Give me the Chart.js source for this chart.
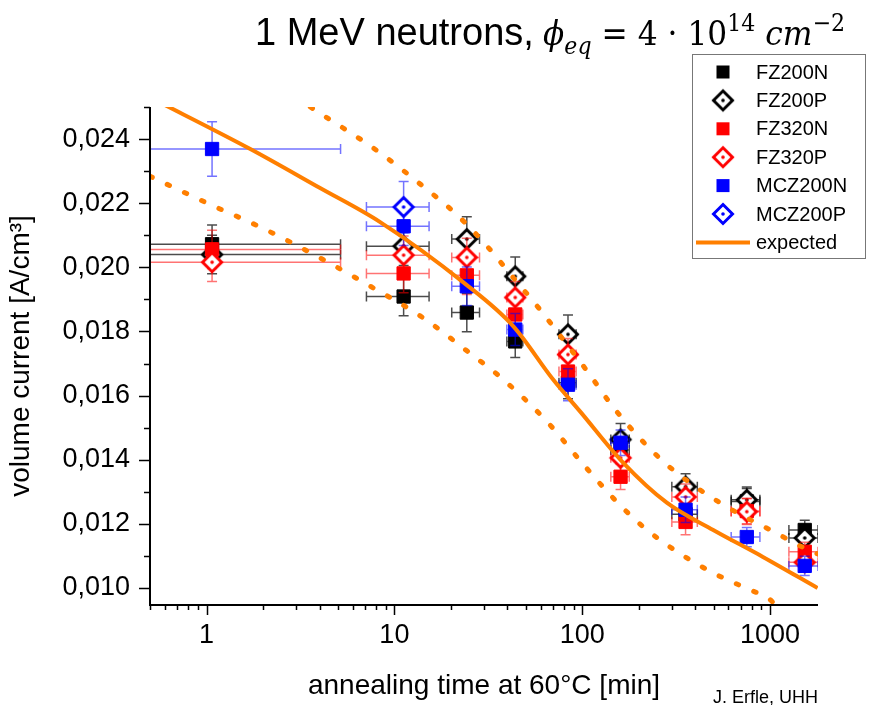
<!DOCTYPE html>
<html><head><meta charset="utf-8">
<script src="https://cdn.jsdelivr.net/npm/chart.js@4.4.1/dist/chart.umd.min.js"></script>
<style>html,body{margin:0;padding:0;background:#fff;}#wrap{width:877px;height:705px;position:relative;}</style>
</head><body><div id="wrap"><canvas id="c" width="877" height="705"></canvas></div>
<script>
// ---------- data ----------
const annealTimes = [1.07, 11.2, 24.3, 44, 84, 160, 355, 752, 1530];
const timeErrors  = [4.1, 4.1, 4.1, 4.3, 8.8, 18, 55, 131, 270];

const fz200nValues = [0.02072, 0.01909, 0.01859, 0.01769, 0.01640, 0.01430, 0.01230, 0.01270, 0.01181];
const fz200nErrors = [0.0006, 0.0006, 0.0006, 0.0005, 0.0005, 0.0004, 0.0004, 0.0004, 0.0003];
const fz200pValues = [0.02040, 0.02066, 0.02088, 0.01972, 0.01791, 0.01463, 0.01316, 0.01275, 0.01156];
const fz200pErrors = [0.0006, 0.0006, 0.0007, 0.0006, 0.0006, 0.0005, 0.0004, 0.0004, 0.0004];
const fz320nValues = [0.02056, 0.01981, 0.01975, 0.01853, 0.01675, 0.01347, 0.01206, 0.01240, 0.01113];
const fz320nErrors = [0.0006, 0.0006, 0.0006, 0.0005, 0.0005, 0.0004, 0.0004, 0.0004, 0.0003];
const fz320pValues = [0.02016, 0.02038, 0.02031, 0.01906, 0.01728, 0.01406, 0.01284, 0.01238, 0.01080];
const fz320pErrors = [0.0006, 0.0006, 0.0006, 0.0005, 0.0005, 0.0004, 0.0004, 0.0004, 0.0003];
const mcz200nValues = [0.02369, 0.02128, 0.01941, 0.01806, 0.01634, 0.01453, 0.01244, 0.01159, 0.01069];
const mcz200nErrors = [0.00085, 0.0006, 0.0006, 0.0005, 0.0005, 0.0004, 0.0004, 0.0003, 0.0003];
const mcz200pValues = [null, 0.02188, null, null, null, null, null, null, null];
const mcz200pErrors = [null, 0.0008, null, null, null, null, null, null, null];

const expectedTimes  = [0.5, 1.71, 4, 8.4, 23.3, 43, 70, 97.6, 165, 282, 498, 916, 1790];
const expectedValues = [0.0253, 0.02369, 0.02248, 0.02141, 0.01953, 0.01816, 0.0165, 0.0155, 0.01391, 0.01266, 0.01181, 0.01097, 0.0100];
const upperTimes  = [3.57, 8.12, 14.6, 21.6, 30.5, 42.4, 58.3, 79.2, 107.6, 144, 199, 283, 424, 652, 1025, 1592, 1800];
const upperValues = [0.025, 0.02363, 0.02247, 0.02163, 0.02072, 0.01972, 0.01875, 0.01775, 0.01672, 0.01569, 0.01472, 0.01384, 0.01306, 0.01238, 0.01178, 0.01119, 0.01106];
const lowerTimes  = [0.5, 1.01, 1.99, 3.89, 7.45, 14.1, 25.4, 37.5, 63.5, 105, 146, 211, 320, 498, 783, 975, 1100];
const lowerValues = [0.02284, 0.0220, 0.02122, 0.02034, 0.01941, 0.01844, 0.01731, 0.01653, 0.01525, 0.01375, 0.01281, 0.01191, 0.01113, 0.01047, 0.00994, 0.00969, 0.00940];

const yTickValues = [0.010, 0.012, 0.014, 0.016, 0.018, 0.020, 0.022, 0.024];
const yMinorTickValues = [0.011, 0.013, 0.015, 0.017, 0.019, 0.021, 0.023, 0.025];
const xTickValues = [1, 10, 100, 1000];
const xMinorTickValues = [0.5, 0.6, 0.7, 0.8, 0.9, 2, 3, 4, 5, 6, 7, 8, 9, 20, 30, 40, 50, 60, 70, 80, 90, 200, 300, 400, 500, 600, 700, 800, 900];

// ---------- helpers ----------
function pts(xs, ys) { const out = []; for (let i = 0; i < xs.length; i++) { if (ys[i] !== null) out.push({x: xs[i], y: ys[i]}); } return out; }
function makeDiamond(color) {
  const c = document.createElement('canvas'); c.width = 26; c.height = 26;
  const g = c.getContext('2d'); const h = 9.5;
  g.beginPath(); g.moveTo(13, 13 - h); g.lineTo(13 + h, 13); g.lineTo(13, 13 + h); g.lineTo(13 - h, 13); g.closePath();
  g.fillStyle = '#fff'; g.fill(); g.lineWidth = 3; g.strokeStyle = color; g.lineJoin = 'miter'; g.stroke();
  g.beginPath(); g.arc(13, 13, 1.8, 0, Math.PI * 2); g.fillStyle = color; g.fill();
  return c;
}
const ORANGE = '#ff7f00';
function scatterSet(name, xs, ys, errs, color, errColor, filled, order) {
  const base = {label: name, data: pts(xs, ys), yErr: errs, xErr: timeErrors, xVals: xs, yVals: ys, errColor: errColor, order: order, showLine: false, markerColor: color, filled: filled};
  if (filled) {
    return Object.assign(base, {pointStyle: 'rect', pointRadius: 9.4, backgroundColor: color, borderColor: color, pointBorderWidth: 1});
  }
  return Object.assign(base, {pointStyle: makeDiamond(color), pointRadius: 10, backgroundColor: color, borderColor: color});
}
const datasets = [
  scatterSet('FZ200N', annealTimes, fz200nValues, fz200nErrors, '#000000', 'rgba(0,0,0,0.7)', true, 16),
  scatterSet('FZ200P', annealTimes, fz200pValues, fz200pErrors, '#000000', 'rgba(0,0,0,0.7)', false, 15),
  scatterSet('FZ320N', annealTimes, fz320nValues, fz320nErrors, '#ff0000', 'rgba(255,0,0,0.55)', true, 14),
  scatterSet('FZ320P', annealTimes, fz320pValues, fz320pErrors, '#ff0000', 'rgba(255,0,0,0.55)', false, 13),
  scatterSet('MCZ200N', annealTimes, mcz200nValues, mcz200nErrors, '#0000ff', 'rgba(0,0,255,0.55)', true, 12),
  scatterSet('MCZ200P', annealTimes, mcz200pValues, mcz200pErrors, '#0000ff', 'rgba(0,0,255,0.55)', false, 11),
  {label: 'expected', data: pts(expectedTimes, expectedValues), showLine: true, pointRadius: 0, borderColor: ORANGE, borderWidth: 4, cubicInterpolationMode: 'monotone', order: 1, isLine: true},
  {label: 'upper', data: pts(upperTimes, upperValues), showLine: true, pointRadius: 0, borderColor: ORANGE, borderWidth: 5, borderDash: [2.5, 16.5], borderCapStyle: 'round', cubicInterpolationMode: 'monotone', order: 2, noLegend: true},
  {label: 'lower', data: pts(lowerTimes, lowerValues), showLine: true, pointRadius: 0, borderColor: ORANGE, borderWidth: 5, borderDash: [2.5, 16.5], borderCapStyle: 'round', cubicInterpolationMode: 'monotone', order: 3, noLegend: true}
];

const SANS = '"Liberation Sans", Arial, sans-serif';
const MATH = '"DejaVu Serif", serif';

// error bars drawn beneath each series' markers
const errorBars = {
  id: 'errorBars',
  beforeDatasetDraw(chart, args) {
    const ds = chart.data.datasets[args.index];
    if (!ds.yErr) return;
    const xs = chart.scales.x, ys = chart.scales.y, ca = chart.chartArea, ctx = chart.ctx;
    ctx.save();
    ctx.beginPath(); ctx.rect(ca.left, ca.top, ca.right - ca.left, ca.bottom - ca.top); ctx.clip();
    ctx.strokeStyle = ds.errColor; ctx.lineWidth = 1.5;
    const cap = 5;
    for (let i = 0; i < ds.xVals.length; i++) {
      const v = ds.yVals[i]; if (v === null) continue;
      const t = ds.xVals[i], e = ds.yErr[i], te = ds.xErr[i];
      const px = xs.getPixelForValue(t), py = ys.getPixelForValue(v);
      const y1 = ys.getPixelForValue(v - e), y2 = ys.getPixelForValue(v + e);
      ctx.beginPath();
      ctx.moveTo(px, y1); ctx.lineTo(px, y2);
      ctx.moveTo(px - cap, y1); ctx.lineTo(px + cap, y1);
      ctx.moveTo(px - cap, y2); ctx.lineTo(px + cap, y2);
      const lo = t - te, hi = t + te;
      const x1 = lo > 0 ? xs.getPixelForValue(lo) : ca.left - 5;
      const x2 = xs.getPixelForValue(hi);
      ctx.moveTo(x1, py); ctx.lineTo(x2, py);
      if (lo > 0) { ctx.moveTo(x1, py - cap); ctx.lineTo(x1, py + cap); }
      ctx.moveTo(x2, py - cap); ctx.lineTo(x2, py + cap);
      ctx.stroke();
    }
    ctx.restore();
  }
};

const decorations = {
  id: 'decorations',
  afterDraw(chart) {
    const ctx = chart.ctx, xs = chart.scales.x, ys = chart.scales.y, ca = chart.chartArea;
    ctx.save();
    // axes lines and ticks
    ctx.strokeStyle = '#000'; ctx.lineWidth = 2;
    ctx.beginPath();
    ctx.moveTo(ca.left, ca.top); ctx.lineTo(ca.left, ca.bottom + 1);
    ctx.moveTo(ca.left - 1, ca.bottom); ctx.lineTo(ca.right, ca.bottom);
    ctx.stroke();
    ctx.lineWidth = 1.5;
    ctx.beginPath();
    yTickValues.forEach(v => { const p = Math.round(ys.getPixelForValue(v)) + 0.5; ctx.moveTo(ca.left - 11, p); ctx.lineTo(ca.left, p); });
    yMinorTickValues.forEach(v => { const p = Math.round(ys.getPixelForValue(v)) + 0.5; ctx.moveTo(ca.left - 6, p); ctx.lineTo(ca.left, p); });
    xTickValues.forEach(v => { const p = Math.round(xs.getPixelForValue(v)) + 0.5; ctx.moveTo(p, ca.bottom); ctx.lineTo(p, ca.bottom + 10); });
    xMinorTickValues.forEach(v => { const p = Math.round(xs.getPixelForValue(v)) + 0.5; ctx.moveTo(p, ca.bottom); ctx.lineTo(p, ca.bottom + 5); });
    ctx.stroke();

    // title: sans part then math part
    ctx.fillStyle = '#000'; ctx.textBaseline = 'alphabetic'; ctx.textAlign = 'left';
    ctx.font = '38px ' + SANS;
    ctx.fillText('1 MeV neutrons,', 255, 45);
    const pieces = [
      {t: '\u03D5', f: 'italic 34px ' + MATH, dy: 0},
      {t: 'eq', f: 'italic 24px ' + MATH, dy: 9},
      {t: ' = 4 \u00B7 10', f: '34px ' + MATH, dy: 0},
      {t: '14', f: '24px ' + MATH, dy: -14},
      {t: ' cm', f: 'italic 34px ' + MATH, dy: 0},
      {t: '\u22122', f: '24px ' + MATH, dy: -14}
    ];
    let total = 0;
    pieces.forEach(p => { ctx.font = p.f; p.w = ctx.measureText(p.t).width; total += p.w; });
    const startX = 543, endX = 845, baseY = 45;
    const sx = (endX - startX) / total;
    ctx.save(); ctx.translate(startX, baseY); ctx.scale(sx, 1);
    let cx = 0;
    pieces.forEach(p => { ctx.font = p.f; ctx.fillText(p.t, cx, p.dy); cx += p.w; });
    ctx.restore();

    // legend
    const lx = 692, ly = 54, lw = 173, lh = 204;
    ctx.fillStyle = '#fff'; ctx.fillRect(lx, ly, lw, lh);
    ctx.strokeStyle = '#777'; ctx.lineWidth = 1; ctx.strokeRect(lx + 0.5, ly + 0.5, lw, lh);
    const rowY0 = 72, rowH = 28.4, mx = 723, tx = 756;
    ctx.font = '20px ' + SANS; ctx.textBaseline = 'middle'; ctx.fillStyle = '#000';
    let r = 0;
    chart.data.datasets.forEach(ds => {
      if (ds.noLegend) return;
      const y = rowY0 + r * rowH;
      if (ds.isLine) {
        ctx.strokeStyle = ds.borderColor; ctx.lineWidth = 4; ctx.beginPath(); ctx.moveTo(696, y); ctx.lineTo(750, y); ctx.stroke();
      } else if (ds.filled) {
        ctx.fillStyle = ds.markerColor; ctx.fillRect(mx - 6.5, y - 6.5, 13, 13);
      } else {
        ctx.drawImage(ds.pointStyle, mx - 13, y - 13);
      }
      ctx.fillStyle = '#000'; ctx.fillText(ds.label, tx, y + 1);
      r++;
    });

    // credit
    ctx.font = '18px ' + SANS; ctx.textBaseline = 'alphabetic'; ctx.fillStyle = '#000';
    ctx.fillText('J. Erfle, UHH', 713, 703);
    ctx.restore();
  }
};

new Chart(document.getElementById('c'), {
  type: 'scatter',
  data: {datasets: datasets},
  plugins: [errorBars, decorations],
  options: {
    responsive: false, animation: false, devicePixelRatio: 1,
    layout: {padding: {left: 0, top: 107, right: 59, bottom: 0}},
    plugins: {legend: {display: false}, tooltip: {enabled: false}, title: {display: false}},
    scales: {
      x: {
        type: 'logarithmic', position: 'bottom', min: 0.5, max: 1800,
        grid: {display: false, drawTicks: false}, border: {display: false},
        afterBuildTicks: s => { s.ticks = xTickValues.map(v => ({value: v})); },
        afterFit: s => { s.height = 100; },
        ticks: {color: '#000', font: {family: SANS, size: 27}, padding: 14, maxRotation: 0, autoSkip: false, callback: v => String(v)},
        title: {display: true, text: 'annealing time at 60\u00B0C [min]', color: '#000', font: {family: SANS, size: 28}, padding: {top: 0, bottom: 2}}
      },
      y: {
        type: 'linear', min: 0.00947, max: 0.025,
        grid: {display: false, drawTicks: false}, border: {display: false},
        afterBuildTicks: s => { s.ticks = yTickValues.map(v => ({value: v})); },
        afterFit: s => { s.width = 150; },
        ticks: {color: '#000', font: {family: SANS, size: 27}, padding: 20, autoSkip: false, callback: v => v.toFixed(3).replace('.', ',')},
        title: {display: true, text: 'volume current [A/cm\u00B3]', color: '#000', font: {family: SANS, size: 28}, padding: {top: 4, bottom: 0}}
      }
    }
  }
});
</script></body></html>
